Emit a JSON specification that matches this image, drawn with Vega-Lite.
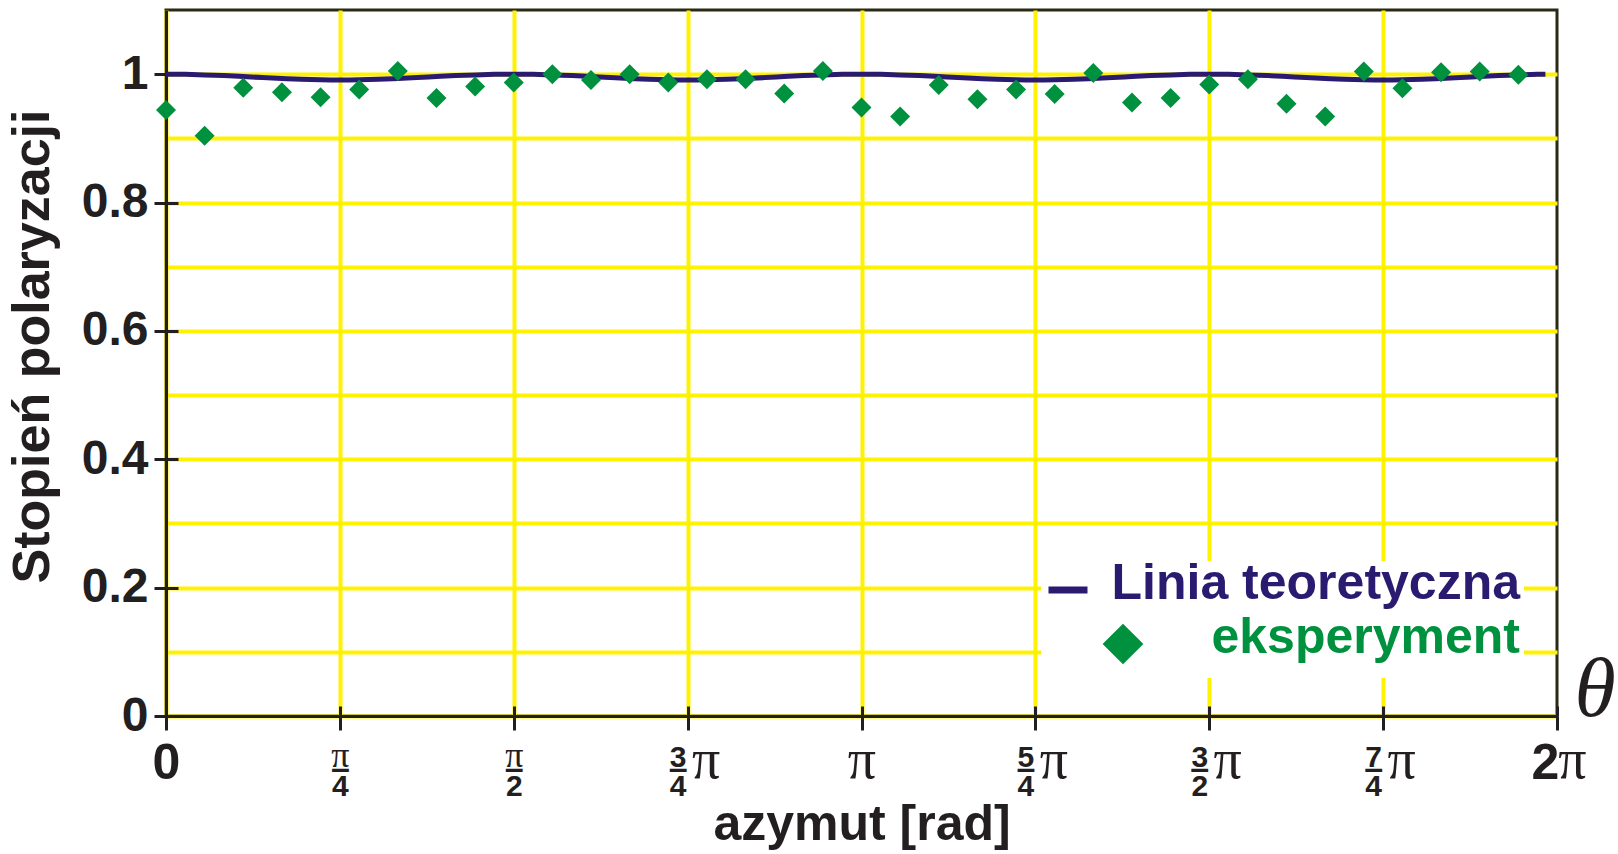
{
  "$schema": "https://vega.github.io/schema/vega-lite/v6.json",
  "width": 1391,
  "height": 706,
  "autosize": {"type": "none"},
  "padding": {"left": 166, "top": 10, "right": 61, "bottom": 138},
  "background": "white",
  "config": {
    "view": {"stroke": "#2b2816", "strokeWidth": 3},
    "axis": {"labelColor": "#231f20", "tickColor": "#231f20", "domainColor": "#231f20", "titleColor": "#231f20"}
  },
  "datasets": {
    "teoria": [
      {"azymut": 0, "P": 1.0}, {"azymut": 5, "P": 0.9997}, {"azymut": 10, "P": 0.9989}, {"azymut": 15, "P": 0.9978},
      {"azymut": 20, "P": 0.9963}, {"azymut": 25, "P": 0.9947}, {"azymut": 30, "P": 0.9933}, {"azymut": 35, "P": 0.9921},
      {"azymut": 40, "P": 0.9913}, {"azymut": 45, "P": 0.991}, {"azymut": 50, "P": 0.9913}, {"azymut": 55, "P": 0.9921},
      {"azymut": 60, "P": 0.9933}, {"azymut": 65, "P": 0.9947}, {"azymut": 70, "P": 0.9963}, {"azymut": 75, "P": 0.9978},
      {"azymut": 80, "P": 0.9989}, {"azymut": 85, "P": 0.9997}, {"azymut": 90, "P": 1.0}, {"azymut": 95, "P": 0.9997},
      {"azymut": 100, "P": 0.9989}, {"azymut": 105, "P": 0.9978}, {"azymut": 110, "P": 0.9963}, {"azymut": 115, "P": 0.9947},
      {"azymut": 120, "P": 0.9933}, {"azymut": 125, "P": 0.9921}, {"azymut": 130, "P": 0.9913}, {"azymut": 135, "P": 0.991},
      {"azymut": 140, "P": 0.9913}, {"azymut": 145, "P": 0.9921}, {"azymut": 150, "P": 0.9933}, {"azymut": 155, "P": 0.9947},
      {"azymut": 160, "P": 0.9963}, {"azymut": 165, "P": 0.9978}, {"azymut": 170, "P": 0.9989}, {"azymut": 175, "P": 0.9997},
      {"azymut": 180, "P": 1.0}, {"azymut": 185, "P": 0.9997}, {"azymut": 190, "P": 0.9989}, {"azymut": 195, "P": 0.9978},
      {"azymut": 200, "P": 0.9963}, {"azymut": 205, "P": 0.9947}, {"azymut": 210, "P": 0.9933}, {"azymut": 215, "P": 0.9921},
      {"azymut": 220, "P": 0.9913}, {"azymut": 225, "P": 0.991}, {"azymut": 230, "P": 0.9913}, {"azymut": 235, "P": 0.9921},
      {"azymut": 240, "P": 0.9933}, {"azymut": 245, "P": 0.9947}, {"azymut": 250, "P": 0.9963}, {"azymut": 255, "P": 0.9978},
      {"azymut": 260, "P": 0.9989}, {"azymut": 265, "P": 0.9997}, {"azymut": 270, "P": 1.0}, {"azymut": 275, "P": 0.9997},
      {"azymut": 280, "P": 0.9989}, {"azymut": 285, "P": 0.9978}, {"azymut": 290, "P": 0.9963}, {"azymut": 295, "P": 0.9947},
      {"azymut": 300, "P": 0.9933}, {"azymut": 305, "P": 0.9921}, {"azymut": 310, "P": 0.9913}, {"azymut": 315, "P": 0.991},
      {"azymut": 320, "P": 0.9913}, {"azymut": 325, "P": 0.9921}, {"azymut": 330, "P": 0.9933}, {"azymut": 335, "P": 0.9947},
      {"azymut": 340, "P": 0.9963}, {"azymut": 345, "P": 0.9978}, {"azymut": 350, "P": 0.9989}, {"azymut": 355, "P": 0.9997},
      {"azymut": 357, "P": 0.9999}
    ],
    "pomiar": [
      {"azymut": 0, "P": 0.944}, {"azymut": 10, "P": 0.904}, {"azymut": 20, "P": 0.979}, {"azymut": 30, "P": 0.972},
      {"azymut": 40, "P": 0.964}, {"azymut": 50, "P": 0.976}, {"azymut": 60, "P": 1.005}, {"azymut": 70, "P": 0.963},
      {"azymut": 80, "P": 0.981}, {"azymut": 90, "P": 0.987}, {"azymut": 100, "P": 1.0}, {"azymut": 110, "P": 0.991},
      {"azymut": 120, "P": 1.0}, {"azymut": 130, "P": 0.987}, {"azymut": 140, "P": 0.992}, {"azymut": 150, "P": 0.992},
      {"azymut": 160, "P": 0.97}, {"azymut": 170, "P": 1.005}, {"azymut": 180, "P": 0.948}, {"azymut": 190, "P": 0.934},
      {"azymut": 200, "P": 0.983}, {"azymut": 210, "P": 0.961}, {"azymut": 220, "P": 0.976}, {"azymut": 230, "P": 0.969},
      {"azymut": 240, "P": 1.002}, {"azymut": 250, "P": 0.956}, {"azymut": 260, "P": 0.963}, {"azymut": 270, "P": 0.984},
      {"azymut": 280, "P": 0.992}, {"azymut": 290, "P": 0.954}, {"azymut": 300, "P": 0.934}, {"azymut": 310, "P": 1.004},
      {"azymut": 320, "P": 0.978}, {"azymut": 330, "P": 1.003}, {"azymut": 340, "P": 1.004}, {"azymut": 350, "P": 0.999}
    ]
  },
  "resolve": {"axis": {"x": "independent", "y": "independent"}},
  "layer": [
    {
      "data": {"name": "teoria"},
      "mark": {"type": "line", "strokeWidth": 5, "interpolate": "monotone"},
      "encoding": {
        "x": {
          "field": "azymut", "type": "quantitative",
          "scale": {"domain": [0, 360], "nice": false, "zero": false},
          "axis": {
            "orient": "bottom",
            "values": [0, 45, 90, 135, 180, 225, 270, 315, 360],
            "title": "azymut [rad]",
            "titleFont": "Liberation Sans", "titleFontWeight": "bold", "titleFontSize": 50,
            "titleX": 695.5, "titleY": 123, "titleAlign": "center", "titleBaseline": "alphabetic",
            "domainWidth": 3,
            "tickSize": 14, "tickWidth": 3,
            "grid": true, "gridColor": "#fff200", "gridWidth": 4,
            "gridOpacity": {"condition": {"test": "datum.value >= 359", "value": 0}, "value": 1},
            "labelFont": "Liberation Sans", "labelFontWeight": "bold",
            "labelFontSize": {"condition": {"test": "datum.value == 0 || datum.value == 360", "value": 50}, "value": 30},
            "labelPadding": {"condition": {"test": "datum.value == 0 || datum.value == 360", "value": 48}, "value": 36},
            "labelOffset": {"condition": [
              {"test": "datum.value == 360", "value": -12},
              {"test": "datum.value == 135 || datum.value == 225 || datum.value == 270 || datum.value == 315", "value": -10}
            ], "value": 0},
            "labelBaseline": "alphabetic",
            "labelAlign": "center",
            "labelLineHeight": 29,
            "labelFlush": false, "labelOverlap": false, "labelBound": false,
            "labelExpr": "datum.value == 0 ? '0' : datum.value == 45 ? ['', '4'] : datum.value == 90 ? ['', '2'] : datum.value == 135 ? ['3', '4'] : datum.value == 225 ? ['5', '4'] : datum.value == 270 ? ['3', '2'] : datum.value == 315 ? ['7', '4'] : datum.value == 360 ? '2' : ''"
          }
        },
        "y": {
          "field": "P", "type": "quantitative",
          "scale": {"domain": [0, 1.1], "nice": false, "zero": true},
          "axis": {
            "orient": "left",
            "values": [0, 0.1, 0.2, 0.3, 0.4, 0.5, 0.6, 0.7, 0.8, 0.9, 1.0, 1.1],
            "title": "Stopień polaryzacji",
            "titleFont": "Liberation Sans", "titleFontWeight": "bold", "titleFontSize": 52,
            "titleAngle": -90, "titleX": -118, "titleY": 336, "titleAlign": "center", "titleBaseline": "alphabetic",
            "domainWidth": 3,
            "tickSize": 12, "tickWidth": 3,
            "tickOpacity": {"condition": {"test": "round(datum.value * 10) % 2 == 1 || datum.value > 1.05", "value": 0}, "value": 1},
            "grid": true, "gridColor": "#fff200", "gridWidth": 4,
            "gridOpacity": {"condition": {"test": "datum.value > 1.05", "value": 0}, "value": 1},
            "labelFont": "Liberation Sans", "labelFontWeight": "bold", "labelFontSize": 48,
            "labelPadding": 6, "labelBaseline": "middle",
            "labelFlush": false, "labelOverlap": false,
            "labelExpr": "(round(datum.value * 10) % 2 == 0 && datum.value < 1.05) ? format(datum.value, '~g') : ''"
          }
        },
        "color": {
          "datum": "Linia teoretyczna", "type": "nominal",
          "scale": {"domain": ["Linia teoretyczna", "eksperyment"], "range": ["#2a1b70", "#00913f"]},
          "legend": {
            "orient": "none", "legendX": 875, "legendY": 551,
            "title": null, "zindex": 0,
            "fillColor": "white", "padding": 4, "rowPadding": 4,
            "labelFont": "Liberation Sans", "labelFontWeight": "bold", "labelFontSize": 50,
            "labelAlign": "right", "labelOffset": 425, "labelLimit": 900,
            "encode": {
              "symbols": {"update": {
                "shape": {"signal": "datum.value === 'eksperyment' ? 'diamond' : 'stroke'"},
                "size": {"signal": "datum.value === 'eksperyment' ? 950 : 1520"},
                "x": {"signal": "datum.value === 'eksperyment' ? 78 : 23"},
                "fill": {"signal": "datum.value === 'eksperyment' ? '#00913f' : 'transparent'"},
                "stroke": {"signal": "datum.value === 'eksperyment' ? 'transparent' : '#2a1b70'"},
                "strokeWidth": {"value": 7},
                "opacity": {"value": 1}
              }},
              "labels": {"update": {
                "dy": {"value": -6},
                "fill": {"signal": "datum.value === 'eksperyment' ? '#00913f' : '#2a1b70'"}
              }}
            }
          }
        }
      }
    },
    {
      "data": {"name": "pomiar"},
      "mark": {"type": "point", "shape": "diamond", "filled": true, "size": 400, "opacity": 1},
      "encoding": {
        "x": {
          "field": "azymut", "type": "quantitative",
          "axis": {
            "orient": "bottom",
            "values": [0, 45, 90, 135, 180, 225, 270, 315, 360],
            "title": null, "domain": false, "grid": false,
            "tickSize": -10, "tickWidth": 3,
            "labelFont": "Liberation Serif", "labelFontWeight": "normal",
            "labelFontSize": {"condition": {"test": "datum.value == 45 || datum.value == 90", "value": 36}, "value": 56},
            "labelPadding": {"condition": {"test": "datum.value == 45 || datum.value == 90", "value": 60}, "value": 71},
            "labelOffset": {"condition": [
              {"test": "datum.value == 360", "value": 15},
              {"test": "datum.value == 135 || datum.value == 225 || datum.value == 270 || datum.value == 315", "value": 18}
            ], "value": 0},
            "labelBaseline": "alphabetic", "labelAlign": "center",
            "labelFlush": false, "labelOverlap": false, "labelBound": false,
            "labelExpr": "datum.value == 0 ? '' : 'π'"
          }
        },
        "y": {
          "field": "P", "type": "quantitative",
          "axis": {
            "orient": "left",
            "values": [0, 0.2, 0.4, 0.6, 0.8, 1.0],
            "title": null, "domain": false, "grid": false, "labels": false,
            "tickSize": -12, "tickWidth": 3
          }
        },
        "color": {"datum": "eksperyment", "type": "nominal"}
      }
    },
    {
      "data": {"values": [{"symbol": "θ"}]},
      "mark": {"type": "text", "font": "Liberation Serif", "fontStyle": "italic", "fontSize": 84, "align": "center", "baseline": "alphabetic", "dx": 38, "color": "#231f20"},
      "encoding": {
        "x": {
          "datum": 360, "type": "quantitative",
          "axis": {
            "orient": "bottom",
            "values": [45, 90, 135, 225, 270, 315],
            "title": null, "domain": false, "grid": false, "ticks": false, "tickSize": 0,
            "labelFont": "Liberation Sans", "labelFontWeight": "bold", "labelFontSize": 34,
            "labelPadding": 62,
            "labelOffset": {"condition": {"test": "datum.value == 135 || datum.value == 225 || datum.value == 270 || datum.value == 315", "value": -10}, "value": 0},
            "labelBaseline": "alphabetic", "labelAlign": "center",
            "labelFlush": false, "labelOverlap": false, "labelBound": false,
            "labelColor": "#231f20",
            "labelExpr": "'–'"
          }
        },
        "y": {"datum": 0, "type": "quantitative", "axis": null},
        "text": {"field": "symbol"}
      }
    }
  ]
}
